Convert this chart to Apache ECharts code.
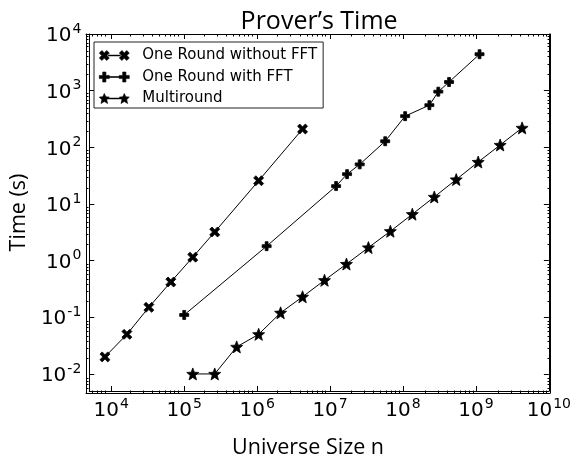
<!DOCTYPE html>
<html><head><meta charset="utf-8">
<script src="https://cdn.jsdelivr.net/npm/echarts@6/dist/echarts.min.js"></script>
<style>html,body{margin:0;padding:0;background:#fff}#c{width:574px;height:464px}</style>
</head><body><div id="c"></div>
<script>
const seriesNames = ['One Round without FFT', 'One Round with FFT', 'Multiround'];
const noFftX = [8192, 16384, 32768, 65536, 131072, 262144, 1048576, 4194304];
const noFftY = [0.02, 0.05, 0.15, 0.42, 1.15, 3.2, 25.7, 210];
const fftX = [1.0e5, 1.35e6, 1.21e7, 1.71e7, 2.55e7, 5.7e7, 1.07e8, 2.3e8, 3.05e8, 4.28e8, 1.12e9];
const fftY = [0.11, 1.8, 20.7, 33.6, 50, 128, 355, 555, 960, 1420, 4400];
const multiX = [131072, 262144, 524288, 1048576, 2097152, 4194304, 8388608, 16777216, 33554432,
  67108864, 134217728, 268435456, 536870912, 1073741824, 2147483648, 4294967296];
const multiY = [0.01, 0.01, 0.03, 0.05, 0.12, 0.23, 0.45, 0.87, 1.7, 3.3, 6.6, 13.3, 27, 55, 110, 220];
const xMajorTicks = [1e4, 1e5, 1e6, 1e7, 1e8, 1e9, 1e10];
const yMajorTicks = [1e-2, 1e-1, 1, 1e1, 1e2, 1e3, 1e4];
const xDecades = [1e3, 1e4, 1e5, 1e6, 1e7, 1e8, 1e9];
const yDecades = [1e-3, 1e-2, 1e-1, 1, 1e1, 1e2, 1e3];
const minorMult = [2, 3, 4, 5, 6, 7, 8, 9];
const X_MIN = 5000, X_MAX = 1e10, Y_MIN = 0.005, Y_MAX = 1e4;

function minors(decades, lo, hi) {
  const out = [];
  decades.forEach(d => minorMult.forEach(m => { const v = +(d * m).toPrecision(6); if (v > lo * 1.0001 && v < hi * 0.9999) out.push(v); }));
  return out;
}
const xMinorTicks = minors(xDecades, X_MIN, X_MAX);
const yMinorTicks = minors(yDecades, Y_MIN, Y_MAX);

const powFmt = v => { const e = Math.round(Math.log10(v)); return '{b|10}{s|' + (e < 0 ? '-' + (-e) : e) + '}'; };
const richLbl = {
  b: { fontFamily: 'DejaVu Sans', fontSize: 20, color: '#000', lineHeight: 24, verticalAlign: 'bottom' },
  s: { fontFamily: 'DejaVu Sans', fontSize: 14, color: '#000', lineHeight: 24, verticalAlign: 'top', padding: [0, 0, 0, 1] }
};
const nameFont = 'Open Sans';

function axis(kind, gridIndex, position, ticks, len, withLabels, extra) {
  const isX = kind === 'x';
  const a = {
    type: 'log', logBase: 10, gridIndex, position,
    min: isX ? X_MIN : Y_MIN, max: isX ? X_MAX : Y_MAX,
    axisLine: { show: true, onZero: false, lineStyle: { color: '#000', width: 1 } },
    axisTick: { show: true, inside: true, length: len, customValues: ticks, lineStyle: { color: '#000', width: 1 } },
    minorTick: { show: false }, splitLine: { show: false }, minorSplitLine: { show: false },
    axisLabel: withLabels ? { show: true, customValues: ticks, formatter: powFmt, rich: richLbl, margin: isX ? 6 : 8 } : { show: false }
  };
  return Object.assign(a, extra || {});
}

const sym = {
  x: 'path://M2.2,0 L5,2.8 L7.8,0 L10,2.2 L7.2,5 L10,7.8 L7.8,10 L5,7.2 L2.2,10 L0,7.8 L2.8,5 L0,2.2 Z',
  plus: 'path://M3.4,0 H6.6 V3.4 H10 V6.6 H6.6 V10 H3.4 V6.6 H0 V3.4 H3.4 Z',
  star: 'path://M50,0 L63,34 L100,36 L71,60 L81,96 L50,76 L19,96 L29,60 L0,36 L37,34 Z'
};
// legend icons: marker - line - marker, drawn in a 30x10 box
const legendIcons = [
  'path://M2.6,0 L5,2.4 L7.4,0 L10,2.6 L7.6,5 L10,7.4 L7.4,10 L5,7.6 L2.6,10 L0,7.4 L2.4,5 L0,2.6 Z M9,4.6 H21 V5.4 H9 Z M22.6,0 L25,2.4 L27.4,0 L30,2.6 L27.6,5 L30,7.4 L27.4,10 L25,7.6 L22.6,10 L20,7.4 L22.4,5 L20,2.6 Z',
  'path://M3.4,0 H6.6 V3.4 H10 V6.6 H6.6 V10 H3.4 V6.6 H0 V3.4 H3.4 Z M9,4.6 H21 V5.4 H9 Z M23.4,0 H26.6 V3.4 H30 V6.6 H26.6 V10 H23.4 V6.6 H20 V3.4 H23.4 Z',
  'path://M5,0 L6.5,3.3 L10,3.6 L7.4,6.2 L8.3,10 L5,8 L1.7,10 L2.6,6.2 L0,3.6 L3.5,3.3 Z M8,4.6 H22 V5.4 H8 Z M25,0 L26.5,3.3 L30,3.6 L27.4,6.2 L28.3,10 L25,8 L21.7,10 L22.6,6.2 L20,3.6 L23.5,3.3 Z'
];

function mk(name, xs, ys, symbol, size) {
  return {
    name, type: 'line', xAxisIndex: 0, yAxisIndex: 0,
    data: xs.map((x, i) => [x, ys[i]]),
    symbol, symbolSize: size, showAllSymbol: true,
    lineStyle: { color: '#000', width: 1 },
    itemStyle: { color: '#000', borderColor: '#000', borderWidth: 0.8 },
    emphasis: { disabled: true }, animation: false
  };
}

const gridRect = { left: 86, top: 34, right: 24, bottom: 71, containLabel: false };
const option = {
  backgroundColor: '#fff',
  animation: false,
  grid: [Object.assign({}, gridRect), Object.assign({}, gridRect)],
  xAxis: [
    axis('x', 0, 'bottom', xMajorTicks, 5, true, {
      name: 'Universe Size n', nameLocation: 'middle', nameGap: 46,
      nameTextStyle: { fontFamily: nameFont, fontSize: 21.5, color: '#000', padding: [0, 22, 0, 0] }
    }),
    axis('x', 0, 'top', xMajorTicks, 5, false, {
      name: 'Prover’s Time', nameLocation: 'middle', nameGap: 0,
      nameTextStyle: { fontFamily: nameFont, fontSize: 25, color: '#000', verticalAlign: 'bottom' }
    }),
    axis('x', 1, 'bottom', xMinorTicks, 2.5, false),
    axis('x', 1, 'top', xMinorTicks, 2.5, false)
  ],
  yAxis: [
    axis('y', 0, 'left', yMajorTicks, 5, true, {
      name: 'Time (s)', nameLocation: 'middle', nameGap: 51, nameRotate: 90,
      nameTextStyle: { fontFamily: nameFont, fontSize: 21.5, color: '#000' }
    }),
    axis('y', 0, 'right', yMajorTicks, 5, false),
    axis('y', 1, 'left', yMinorTicks, 2.5, false),
    axis('y', 1, 'right', yMinorTicks, 2.5, false)
  ],
  legend: {
    orient: 'vertical', left: 94, top: 42,
    data: seriesNames.map((n, i) => ({ name: n, icon: legendIcons[i], itemStyle: { borderWidth: 0.6 } })),
    backgroundColor: '#fff', borderColor: '#222', borderWidth: 1,
    padding: [6, 6, 2, 5], itemGap: 6.5, itemWidth: 30, itemHeight: 10,
    textStyle: { fontFamily: 'DejaVu Sans', fontSize: 15, color: '#000', padding: [0, 0, 0, 8] },
    selectedMode: false
  },
  series: [
    mk(seriesNames[0], noFftX, noFftY, sym.x, 10),
    mk(seriesNames[1], fftX, fftY, sym.plus, 9),
    mk(seriesNames[2], multiX, multiY, sym.star, 12)
  ]
};
const chart = echarts.init(document.getElementById('c'), null, { renderer: 'canvas' });
chart.setOption(option);
</script>
</body></html>
